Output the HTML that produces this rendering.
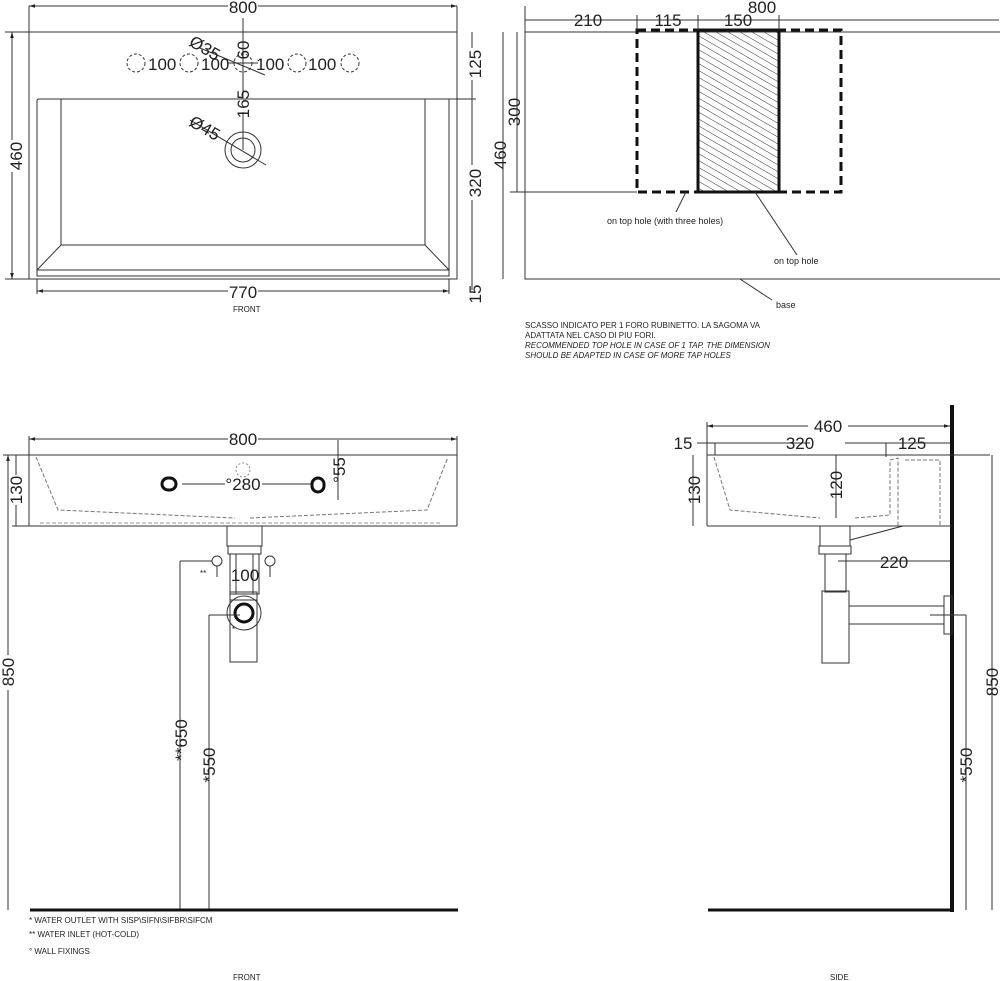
<!DOCTYPE html>
<html><head><meta charset="utf-8"><style>
html,body{margin:0;padding:0;background:#fff;}
svg{display:block;font-family:"Liberation Sans",sans-serif;}
.t{font-size:17px;fill:#222}
.s{font-size:8px;fill:#222}
</style></head><body>
<svg width="1000" height="981" viewBox="0 0 1000 981" xmlns="http://www.w3.org/2000/svg">
<defs>
<marker id="a" viewBox="0 0 10 10" refX="10" refY="5" markerWidth="6" markerHeight="6" orient="auto-start-reverse"><path d="M0,2 L10,5 L0,8z" fill="#222"/></marker>
<pattern id="h" width="6" height="6" patternUnits="userSpaceOnUse" patternTransform="rotate(-60)"><line x1="0" y1="0" x2="0" y2="6" stroke="#333" stroke-width="1"/></pattern>
</defs>
<g stroke="#333" stroke-width="1" fill="none">
<!-- TOP LEFT -->
<rect x="29" y="32" width="428" height="247"/>
<path d="M37,276 V101 Q37,99 39,99 H449 V276 Z"/>
<path d="M61,99 V245 H425 V99 M37,270 L61,245 M449,270 L425,245 M37,270 H449"/>
<line x1="29" y1="6" x2="29" y2="32"/><line x1="457" y1="6" x2="457" y2="32"/>
<line x1="29" y1="6" x2="228" y2="6" marker-start="url(#a)"/><line x1="258" y1="6" x2="457" y2="6" marker-end="url(#a)"/>
<line x1="12" y1="32" x2="12" y2="140" marker-start="url(#a)"/><line x1="12" y1="172" x2="12" y2="279" marker-end="url(#a)"/>
<line x1="5" y1="32" x2="29" y2="32"/><line x1="5" y1="279" x2="29" y2="279"/>
<line x1="37" y1="291" x2="228" y2="291" marker-start="url(#a)"/><line x1="258" y1="291" x2="449" y2="291" marker-end="url(#a)"/>
<line x1="37" y1="279" x2="37" y2="294"/><line x1="449" y1="279" x2="449" y2="294"/>
<line x1="472" y1="32" x2="472" y2="48"/><line x1="472" y1="80" x2="472" y2="99"/>
<line x1="472" y1="99" x2="472" y2="165"/><line x1="472" y1="200" x2="472" y2="279"/>
<line x1="472" y1="279" x2="472" y2="290"/>
<line x1="443" y1="99" x2="476" y2="99"/>
<line x1="243" y1="18" x2="243" y2="98"/>
<line x1="243" y1="112" x2="243" y2="150"/>
<circle cx="243" cy="150" r="18"/><circle cx="243" cy="150" r="12"/>
<line x1="190" y1="120" x2="266" y2="165"/>
<line x1="200" y1="48" x2="265" y2="75"/>
<circle cx="243" cy="63" r="9" stroke-dasharray="3,2"/>
<circle cx="136" cy="63" r="9" stroke-dasharray="3,2"/><circle cx="189" cy="63" r="9" stroke-dasharray="3,2"/>
<circle cx="297" cy="63" r="9" stroke-dasharray="3,2"/><circle cx="350" cy="63" r="9" stroke-dasharray="3,2"/>
<line x1="228" y1="63" x2="258" y2="63"/>
<!-- TOP RIGHT -->
<rect x="525" y="32" width="476" height="247"/>
<rect x="698" y="30" width="81" height="162" fill="url(#h)" stroke="#111" stroke-width="3"/>
<rect x="637" y="30" width="204" height="162" stroke="#111" stroke-width="3" stroke-dasharray="9,5"/>
<line x1="525" y1="20" x2="999" y2="20"/>
<line x1="525" y1="6" x2="525" y2="32"/><line x1="637" y1="15" x2="637" y2="30"/><line x1="698" y1="15" x2="698" y2="30"/><line x1="779" y1="15" x2="779" y2="30"/>
<line x1="517" y1="32" x2="517" y2="192"/><line x1="510" y1="192" x2="637" y2="192"/>
<line x1="503" y1="32" x2="503" y2="279"/>
<line x1="686" y1="192" x2="676" y2="212"/>
<line x1="755" y1="192" x2="797" y2="255"/>
<line x1="740" y1="279" x2="772" y2="300"/>
<!-- BOTTOM LEFT -->
<line x1="29" y1="439" x2="228" y2="439" marker-start="url(#a)"/><line x1="258" y1="439" x2="457" y2="439" marker-end="url(#a)"/>
<line x1="29" y1="436" x2="29" y2="526"/><line x1="457" y1="436" x2="457" y2="526"/>
<line x1="29" y1="455" x2="457" y2="455"/><line x1="29" y1="526" x2="457" y2="526"/>
<path d="M36,457 L58,510 L235,518 M250,518 L427,510 L448,457" stroke-dasharray="4,2" stroke="#777"/>
<path d="M40,523 L440,523" stroke-dasharray="4,2" stroke="#999"/>
<circle cx="243" cy="470" r="7" stroke-dasharray="2,2" stroke="#888"/>
<line x1="182" y1="484" x2="225" y2="484"/><line x1="262" y1="484" x2="312" y2="484"/>
<rect x="162" y="478" width="14" height="12" rx="6" stroke="#111" stroke-width="3"/>
<rect x="312" y="478" width="12" height="14" rx="6" stroke="#111" stroke-width="3"/>
<line x1="338" y1="440" x2="338" y2="500"/>
<line x1="16" y1="455" x2="16" y2="475"/><line x1="16" y1="505" x2="16" y2="526"/><line x1="12" y1="526" x2="29" y2="526"/>
<line x1="8" y1="455" x2="8" y2="655" marker-start="url(#a)"/><line x1="8" y1="690" x2="8" y2="910"/>
<line x1="3" y1="455" x2="29" y2="455"/>
<rect x="227" y="526" width="35" height="20"/><rect x="228" y="546" width="33" height="8"/>
<rect x="230" y="554" width="29" height="40"/><line x1="236" y1="554" x2="236" y2="594"/><line x1="253" y1="554" x2="253" y2="594"/>
<rect x="230" y="592" width="27" height="8"/>
<circle cx="244" cy="613" r="17"/><circle cx="244" cy="613" r="9" stroke="#111" stroke-width="3"/>
<rect x="230" y="600" width="27" height="62"/>
<circle cx="217" cy="561" r="5"/><circle cx="270" cy="561" r="5"/>
<line x1="180" y1="561" x2="212" y2="561"/><line x1="180" y1="561" x2="180" y2="910"/>
<line x1="209" y1="615" x2="240" y2="615"/><line x1="209" y1="615" x2="209" y2="910"/>
<line x1="217" y1="566" x2="217" y2="577"/><line x1="270" y1="566" x2="270" y2="577"/>
<line x1="30" y1="910" x2="458" y2="910" stroke="#111" stroke-width="3"/>
<!-- BOTTOM RIGHT -->
<line x1="952" y1="405" x2="952" y2="912" stroke="#111" stroke-width="4"/>
<line x1="708" y1="910" x2="952" y2="910" stroke="#111" stroke-width="3"/>
<line x1="707" y1="426" x2="808" y2="426" marker-start="url(#a)"/><line x1="848" y1="426" x2="950" y2="426" marker-end="url(#a)"/>
<line x1="707" y1="422" x2="707" y2="526"/>
<line x1="697" y1="443" x2="810" y2="443"/><line x1="845" y1="443" x2="950" y2="443"/>
<line x1="715" y1="443" x2="715" y2="455"/><line x1="886" y1="443" x2="886" y2="457"/>
<line x1="707" y1="455" x2="990" y2="455"/><line x1="707" y1="526" x2="952" y2="526"/>
<path d="M714,457 L730,510 L820,518 M855,518 L890,515 L890,460 L898,458 L898,526 M905,460 H940 V526" stroke-dasharray="4,2" stroke="#777"/>
<line x1="836" y1="455" x2="836" y2="518"/>
<line x1="693" y1="455" x2="693" y2="526"/>
<rect x="820" y="526" width="30" height="20"/><rect x="819" y="546" width="32" height="8"/>
<path d="M850,540 L903,526"/>
<rect x="825" y="554" width="21" height="38"/><rect x="822" y="591" width="27" height="72"/>
<rect x="849" y="606" width="95" height="18"/><rect x="944" y="596" width="8" height="38"/>
<line x1="838" y1="561" x2="950" y2="561"/>
<line x1="966" y1="615" x2="966" y2="910"/><line x1="930" y1="615" x2="966" y2="615"/>
<line x1="992" y1="455" x2="992" y2="910"/>
</g>
<g class="t">
<text x="243" y="13" text-anchor="middle">800</text>
<text x="243" y="298" text-anchor="middle">770</text>
<text x="22" y="156" transform="rotate(-90 22 156)" text-anchor="middle">460</text>
<text x="481" y="64" transform="rotate(-90 481 64)" text-anchor="middle">125</text>
<text x="481" y="183" transform="rotate(-90 481 183)" text-anchor="middle">320</text>
<text x="481" y="294" transform="rotate(-90 481 294)" text-anchor="middle">15</text>
<text x="148" y="70">100</text><text x="201" y="70">100</text><text x="256" y="70">100</text><text x="308" y="70">100</text>
<text x="249" y="50" transform="rotate(-90 249 50)" text-anchor="middle">60</text>
<text x="249" y="104" transform="rotate(-90 249 104)" text-anchor="middle">165</text>
<text x="188" y="45" transform="rotate(30 188 45)">Ø35</text>
<text x="188" y="125" transform="rotate(30 188 125)">Ø45</text>
<text x="762" y="13" text-anchor="middle">800</text>
<text x="588" y="26" text-anchor="middle">210</text>
<text x="668" y="26" text-anchor="middle">115</text>
<text x="738" y="26" text-anchor="middle">150</text>
<text x="520" y="112" transform="rotate(-90 520 112)" text-anchor="middle">300</text>
<text x="506" y="155" transform="rotate(-90 506 155)" text-anchor="middle">460</text>
<text x="243" y="445" text-anchor="middle">800</text>
<text x="243" y="490" text-anchor="middle">°280</text>
<text x="345" y="470" transform="rotate(-90 345 470)" text-anchor="middle">°55</text>
<text x="22" y="490" transform="rotate(-90 22 490)" text-anchor="middle">130</text>
<text x="14" y="672" transform="rotate(-90 14 672)" text-anchor="middle">850</text>
<text x="245" y="581" text-anchor="middle">100</text>
<text x="187" y="740" transform="rotate(-90 187 740)" text-anchor="middle">**650</text>
<text x="215" y="765" transform="rotate(-90 215 765)" text-anchor="middle">*550</text>
<text x="828" y="432" text-anchor="middle">460</text>
<text x="683" y="449" text-anchor="middle">15</text>
<text x="800" y="449" text-anchor="middle">320</text>
<text x="912" y="449" text-anchor="middle">125</text>
<text x="700" y="490" transform="rotate(-90 700 490)" text-anchor="middle">130</text>
<text x="842" y="485" transform="rotate(-90 842 485)" text-anchor="middle">120</text>
<text x="894" y="568" text-anchor="middle">220</text>
<text x="972" y="765" transform="rotate(-90 972 765)" text-anchor="middle">*550</text>
<text x="998" y="682" transform="rotate(-90 998 682)" text-anchor="middle">850</text>
</g>
<g class="s">
<text x="233" y="312">FRONT</text>
<text x="607" y="224" font-size="9">on top hole (with three holes)</text>
<text x="774" y="264" font-size="9">on top hole</text>
<text x="776" y="308" font-size="9">base</text>
<text x="525" y="328">SCASSO INDICATO PER 1 FORO RUBINETTO. LA SAGOMA VA</text>
<text x="525" y="338">ADATTATA NEL CASO DI PIU FORI.</text>
<text x="525" y="348" font-style="italic">RECOMMENDED TOP HOLE IN CASE OF 1 TAP. THE DIMENSION</text>
<text x="525" y="358" font-style="italic">SHOULD BE ADAPTED IN CASE OF MORE TAP HOLES</text>
<text x="200" y="576">**</text>
<text x="232" y="632">*</text>
<text x="29" y="923">*  WATER OUTLET WITH SISP\SIFN\SIFBR\SIFCM</text>
<text x="29" y="937">** WATER INLET  (HOT-COLD)</text>
<text x="29" y="954">° WALL FIXINGS</text>
<text x="233" y="980">FRONT</text>
<text x="830" y="980">SIDE</text>
</g>
</svg>
</body></html>
